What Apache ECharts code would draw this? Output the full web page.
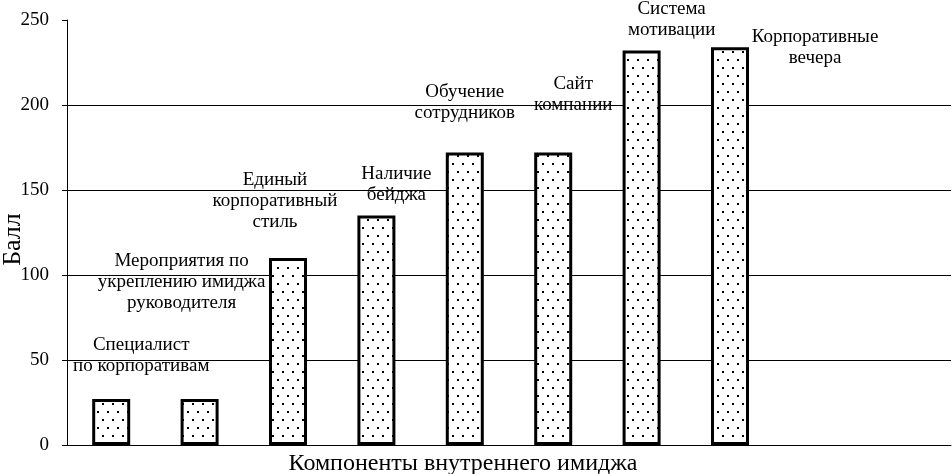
<!DOCTYPE html>
<html><head><meta charset="utf-8">
<script src="https://cdn.jsdelivr.net/npm/echarts@6/dist/echarts.min.js"></script>
<style>html,body{margin:0;padding:0;background:#fff}#c{width:952px;height:474px}</style>
</head><body><div id="c"></div>
<script>
const categories = ['Специалист\nпо корпоративам','Мероприятия по\nукреплению имиджа\nруководителя','Единый\nкорпоративный\nстиль','Наличие\nбейджа','Обучение\nсотрудников','Сайт\nкомпании','Система\nмотивации','Корпоративные\nвечера','',''];
const values = [27, 27, 110, 135, 172, 172, 232, 234, null, null];
const yTicks = [0, 50, 100, 150, 200, 250];

// label offsets (style only)
const labelOffsets = [[30,-18],[-18,-81],[-13,-20],[20,-5],[0,-24],[20,-32],[30,-5],[85,26]];

const pc = document.createElement('canvas');
pc.width = 10; pc.height = 16;
const pctx = pc.getContext('2d');
pctx.fillStyle = '#fff'; pctx.fillRect(0,0,10,16);
pctx.fillStyle = '#000';
pctx.fillRect(2,3,2,2);
pctx.fillRect(7,11,2,2);

const font = '"Liberation Serif","Times New Roman",serif';
const chart = echarts.init(document.getElementById('c'));
chart.setOption({
  animation:false,
  backgroundColor:'#fff',
  title:{text:'Компоненты внутреннего имиджа', left:458, top:447, textAlign:'center',
    textStyle:{fontFamily:font, fontSize:24, fontWeight:'normal', color:'#000'}},
  grid:{left:67, right:1, top:20, bottom:29, containLabel:false, outerBoundsMode:'none'},
  xAxis:{type:'category', data:categories, boundaryGap:true,
    axisLine:{lineStyle:{color:'#000', width:1}}, axisTick:{show:false}, axisLabel:{show:false}},
  yAxis:{type:'value', min:0, max:250, interval:50,
    name:'Балл', nameLocation:'middle', nameGap:41, nameMoveOverlap:false,
    nameTextStyle:{fontFamily:font, fontSize:26, color:'#000', padding:[0,14,0,0]},
    axisLine:{show:true, lineStyle:{color:'#000', width:1}},
    axisTick:{show:true, length:5, lineStyle:{color:'#000'}},
    axisLabel:{fontFamily:font, fontSize:19, color:'#000', margin:18,
      formatter:v=> yTicks.includes(v) ? String(v) : ''},
    splitLine:{show:true, lineStyle:{color:['#000','#000','#000','#000','#000','rgba(0,0,0,0)'], width:1}}},
  series:[{type:'bar', barWidth:38,
    data: values.map((v,i)=>({value:v, label:{offset: labelOffsets[i] || [0,0]}})),
    itemStyle:{color:{image:pc, repeat:'repeat'}, borderColor:'#000', borderWidth:3},
    label:{show:true, position:'top', distance:5, color:'#000', fontFamily:font, fontSize:19, lineHeight:21,
      align:'center', formatter:p=>categories[p.dataIndex]}}]
});
</script></body></html>
